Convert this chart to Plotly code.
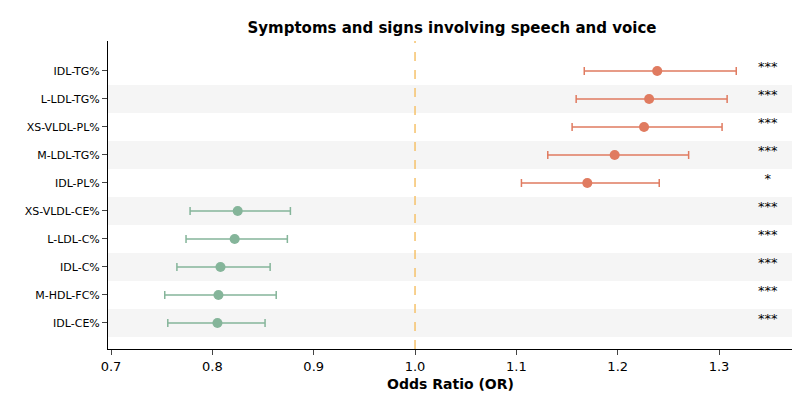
import plotly.graph_objects as go

labels = ["IDL-TG%", "L-LDL-TG%", "XS-VLDL-PL%", "M-LDL-TG%", "IDL-PL%",
          "XS-VLDL-CE%", "L-LDL-C%", "IDL-C%", "M-HDL-FC%", "IDL-CE%"]
odds = [1.239, 1.231, 1.226, 1.197, 1.170, 0.825, 0.822, 0.808, 0.806, 0.805]
ci_lo = [1.167, 1.159, 1.155, 1.131, 1.105, 0.778, 0.774, 0.765, 0.753, 0.756]
ci_hi = [1.317, 1.308, 1.303, 1.270, 1.241, 0.877, 0.874, 0.857, 0.863, 0.852]
stars = ["***", "***", "***", "***", "*", "***", "***", "***", "***", "***"]

red = "#E07B60"
green = "#85B59A"

fig = go.Figure()
ys = list(range(len(labels)))

# alternating row shading
for i in ys:
    if i % 2 == 1:
        fig.add_shape(type="rect", xref="paper", x0=0, x1=1, y0=i - 0.5, y1=i + 0.5,
                      fillcolor="#F5F5F5", line_width=0, layer="below")

fig.add_vline(x=1.0, line=dict(color="#F5C26B", width=1.5, dash="dash"))

for i in ys:
    c = red if odds[i] > 1 else green
    fig.add_trace(go.Scatter(
        x=[odds[i]], y=[i], mode="markers",
        marker=dict(color=c, size=10),
        error_x=dict(type="data", symmetric=False,
                     array=[ci_hi[i] - odds[i]], arrayminus=[odds[i] - ci_lo[i]],
                     color=c, thickness=1.5, width=4),
        showlegend=False))

fig.add_trace(go.Scatter(x=[1.348] * len(ys), y=[y - 0.12 for y in ys], mode="text", text=stars,
                         textfont=dict(size=13, color="black", family="DejaVu Sans"),
                         textposition="middle center", showlegend=False))

fig.add_shape(type="line", xref="paper", yref="paper", x0=1, x1=1, y0=0, y1=1,
              line=dict(color="black", width=1))

fig.update_layout(
    width=800, height=400, plot_bgcolor="white", paper_bgcolor="white",
    margin=dict(l=100, r=15, t=33, b=59, autoexpand=False),
    font=dict(family="DejaVu Sans", color="black"),
    title=dict(text="<b>Symptoms and signs involving speech and voice</b>",
               x=0.555, xanchor="center", y=0.95, yanchor="middle", font=dict(size=15),
               automargin=False),
    xaxis=dict(range=[0.697, 1.373], tickvals=[0.7, 0.8, 0.9, 1.0, 1.1, 1.2, 1.3],
               ticktext=["0.7", "0.8", "0.9", "1.0", "1.1", "1.2", "1.3"],
               showgrid=False, zeroline=False, showline=True, linecolor="black",
               ticks="outside", tickfont=dict(size=13), automargin=False,
               title=dict(text="<b>Odds Ratio (OR)</b>", font=dict(size=14), standoff=6)),
    yaxis=dict(range=[9.93, -1.07], tickvals=ys, ticktext=labels, showgrid=False,
               zeroline=False, showline=True, linecolor="black", ticks="outside",
               tickfont=dict(size=11), automargin=False),
)

fig.write_html("out.html")
